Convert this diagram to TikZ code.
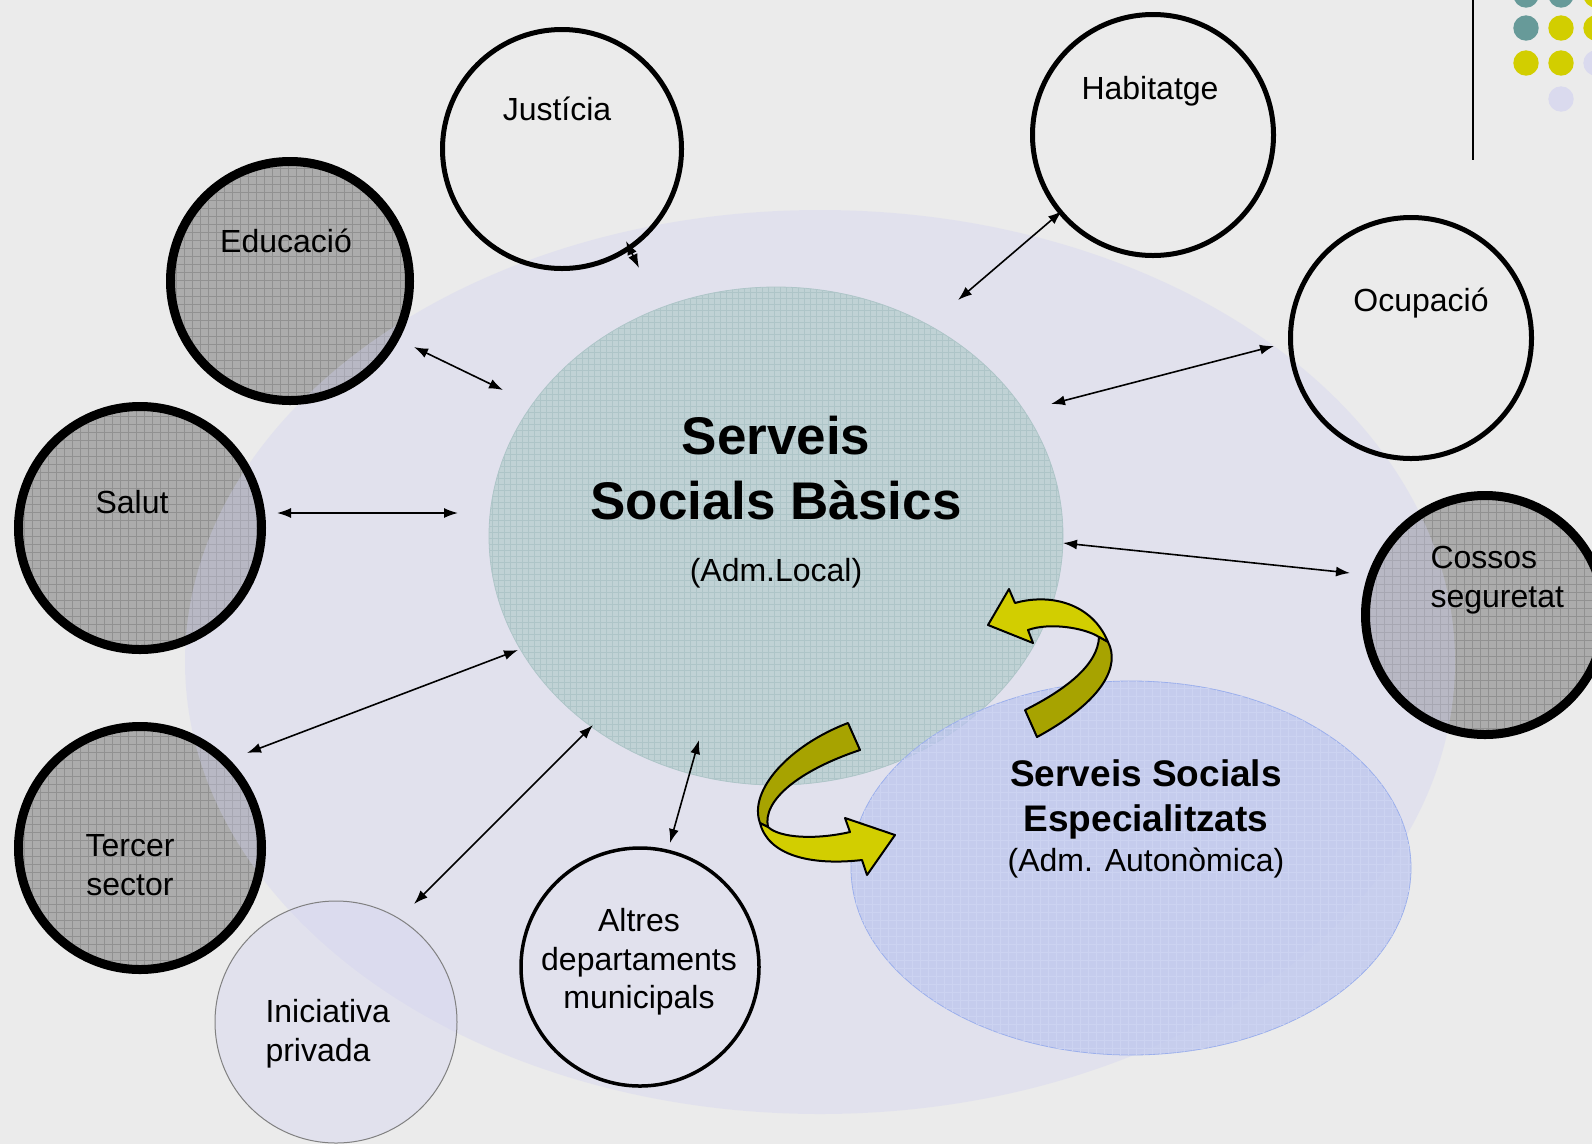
\documentclass[tikz,border=0pt]{standalone}
\usepackage{fontspec}
\setmainfont{Liberation Sans}
\usetikzlibrary{shapes.geometric,arrows.meta,patterns.meta}

\definecolor{bggray}{RGB}{235,235,235}
\definecolor{ballgray}{RGB}{172,172,172}
\definecolor{gridgray}{RGB}{145,145,145}
\definecolor{lavender}{RGB}{209,209,241}
\definecolor{tealfill}{RGB}{192,210,213}
\definecolor{tealgrid}{RGB}{174,197,200}
\definecolor{bluefill}{RGB}{188,197,238}
\definecolor{bluegrid}{RGB}{204,211,241}
\definecolor{blueline}{RGB}{155,175,236}
\definecolor{ribbon}{RGB}{210,206,0}
\definecolor{ribbondark}{RGB}{167,163,0}
\definecolor{dotteal}{RGB}{103,154,153}
\definecolor{dotlav}{RGB}{218,218,238}

\tikzset{
  grayball/.style={circle, inner sep=0pt, fill=ballgray,
    postaction={pattern={Hatch[distance=8pt,line width=0.8pt]}, pattern color=gridgray}},
  heavyring/.style={line width=9pt},
  ring/.style={circle, draw, line width=5pt, inner sep=0pt, minimum size=241pt},
  lbl/.style={font=\fontsize{32}{38.6}\selectfont, align=center},
  link/.style={{Latex[length=14pt,width=10pt]}-{Latex[length=14pt,width=10pt]}, line width=1.6pt},
  ribbonarrow/.style={draw=black, line width=2pt, line join=round}
}

\begin{document}
\begin{tikzpicture}[x=1pt, y=-1pt]
\useasboundingbox (0,0) rectangle (1592,1144);
\clip (0,0) rectangle (1592,1144);
\fill[bggray] (0,0) rectangle (1592,1144);

% grey circles, under the big ellipse
\node[grayball, minimum size=239pt] (edu) at (290,281) {};
\node[grayball, minimum size=243pt] (sal) at (140,528) {};
\node[grayball, minimum size=243pt] (ter) at (140,848) {};
\node[grayball, minimum size=239pt] (cos) at (1485,615) {};

% big ellipse
\fill[lavender, fill opacity=0.35] (820,662) ellipse[x radius=635, y radius=452];

\node[circle, minimum size=242pt, inner sep=0pt, fill=lavender, fill opacity=0.35,
  draw=gray, line width=1pt] (ini) at (336,1022) {};

% basic and specialised services
\node[ellipse, minimum width=574pt, minimum height=498pt, inner sep=0pt, fill=tealfill,
  draw=tealgrid, line width=0.8pt,
  postaction={pattern={Hatch[distance=6pt,line width=0.6pt]}, pattern color=tealgrid}] (ssb) at (776,536) {};
\node[ellipse, minimum width=560pt, minimum height=374pt, inner sep=0pt, fill=bluefill,
  fill opacity=0.75, draw=blueline, line width=0.8pt,
  postaction={pattern={Hatch[distance=8pt,line width=0.6pt]}, pattern color=bluegrid}] (spe) at (1131,868) {};

\draw[heavyring] (edu) circle[radius=119.5];
\draw[heavyring] (sal) circle[radius=121.5];
\draw[heavyring] (ter) circle[radius=121.5];
\draw[heavyring] (cos) circle[radius=119.5];

\node[ring, minimum size=239pt] (jus) at (562,149) {};
\node[ring] (hab) at (1153,135) {};
\node[ring] (ocu) at (1411,338) {};
\node[ring, line width=3.5pt, minimum size=238pt] (alt) at (640,967) {};

% labels
\node[lbl] (jus-t) at (557,109) {Justícia};
\node[lbl] (hab-t) at (1150,91) {Habitatge};
\node[lbl] (edu-t) at (286,241) {Educació};
\node[lbl] (ocu-t) at (1421,303) {Ocupació};
\node[lbl] (sal-t) at (132,502) {Salut};
\node[lbl, align=left, anchor=west] (cos-t) at (1427,580) {Cossos\\seguretat};
\node[lbl] (ter-t) at (130,865) {Tercer\\sector};
\node[lbl, align=left, anchor=west] (ini-t) at (262,1034) {Iniciativa\\privada};
\node[lbl] (alt-t) at (639,962) {Altres\\departaments\\municipals};
\node[font=\fontsize{53}{65}\selectfont\bfseries, align=center] (ssb-t) at (776,468) {Serveis\\Socials Bàsics};
\node[lbl] (ssb-s) at (776,573) {(Adm.Local)};
\node[font=\fontsize{37}{45}\selectfont\bfseries, align=center] (spe-t) at (1146,799) {Serveis Socials\\Especialitzats};
\node[lbl] (spe-s) at (1146,863) {(Adm. Autonòmica)};

% arrow ends
\coordinate (jus-o) at (626,241);  \coordinate (jus-i) at (639,268);
\coordinate (edu-o) at (414,347);  \coordinate (edu-i) at (503,390);
\coordinate (sal-o) at (277,513);  \coordinate (sal-i) at (458,513);
\coordinate (ter-o) at (247,753);  \coordinate (ter-i) at (518,650);
\coordinate (ini-o) at (414,904);  \coordinate (ini-i) at (593,725);
\coordinate (alt-o) at (670,843);  \coordinate (alt-i) at (699,740);
\coordinate (hab-o) at (1062,211); \coordinate (hab-i) at (958,300);
\coordinate (ocu-o) at (1274,346); \coordinate (ocu-i) at (1051,404);
\coordinate (cos-o) at (1350,573); \coordinate (cos-i) at (1063,543);

\draw[link] (jus-o) -- (jus-i);
\draw[link] (edu-o) -- (edu-i);
\draw[link] (sal-o) -- (sal-i);
\draw[link] (ter-o) -- (ter-i);
\draw[link] (ini-o) -- (ini-i);
\draw[link] (alt-o) -- (alt-i);
\draw[link] (hab-o) -- (hab-i);
\draw[link] (ocu-o) -- (ocu-i);
\draw[link] (cos-o) -- (cos-i);

% turning arrows
\filldraw[ribbonarrow, fill=ribbon] (988,625) -- (1009,589) -- (1015,603)
  .. controls (1050,593) and (1092,603) .. (1108,642) -- (1099,637)
  .. controls (1085,628) and (1050,622) .. (1028,630) -- (1033,643) -- cycle;
\filldraw[ribbonarrow, fill=ribbondark] (1099,637) -- (1108,642)
  .. controls (1120,665) and (1105,700) .. (1037,737) -- (1025,710)
  .. controls (1065,690) and (1098,665) .. (1099,637) -- cycle;
\filldraw[ribbonarrow, fill=ribbondark] (848,723)
  .. controls (790,745) and (748,790) .. (760,823) -- (768,827)
  .. controls (762,800) and (800,770) .. (860,750) -- cycle;
\filldraw[ribbonarrow, fill=ribbon] (760,823)
  .. controls (768,855) and (810,866) .. (862,860) -- (867,875) -- (895,835)
  -- (845,818) -- (850,832) .. controls (815,840) and (780,838) .. (768,827) -- cycle;

% corner decoration
\draw[line width=2.5pt] (1473,0) -- (1473,160);
\foreach \x/\y/\c in {1526/-5/dotteal, 1561/-5/dotteal, 1596/-5/ribbon,
  1526/28/dotteal, 1561/28/ribbon, 1596/28/ribbon,
  1526/63/ribbon, 1561/63/ribbon, 1596/63/dotlav, 1561/99/dotlav}
  \fill[\c] (\x,\y) circle[radius=12.7];
\end{tikzpicture}
\end{document}
